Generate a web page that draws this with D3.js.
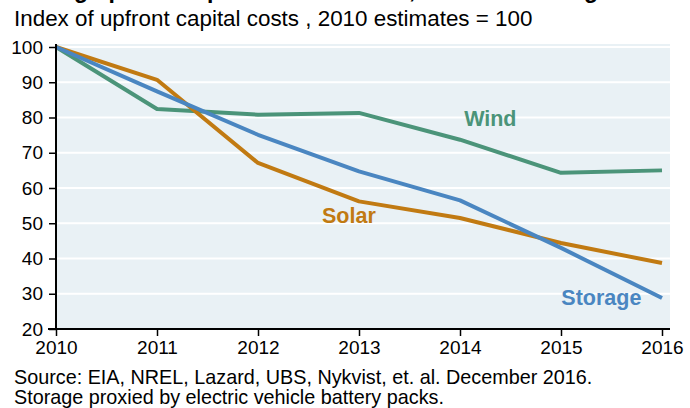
<!DOCTYPE html>
<html>
<head>
<meta charset="utf-8">
<script src="https://cdn.jsdelivr.net/npm/d3@7"></script>
<style>
  body { margin: 0; background: #fff; }
  svg { display: block; }
  text { font-family: "Liberation Sans", Arial, sans-serif; }
</style>
</head>
<body>
<div class="chart"></div>
<script>
// --- Data (index, 2010 = 100) ---
const years = [2010, 2011, 2012, 2013, 2014, 2015, 2016];
const wind = [100, 82.4, 80.8, 81.3, 73.7, 64.3, 65.0];
const solar = [100, 90.7, 67.1, 56.2, 51.5, 44.4, 38.7];
const storage = [100, 87.4, 75.1, 64.7, 56.5, 43.0, 28.8];
const yTicks = [20, 30, 40, 50, 60, 70, 80, 90, 100];

const series = [
  { name: "Wind", values: wind, color: "#4b9479", lx: 2014.3, ly: 77.5 },
  { name: "Solar", values: solar, color: "#c17a12", lx: 2012.9, ly: 50 },
  { name: "Storage", values: storage, color: "#4a86c1", lx: 2015.4, ly: 26.8 }
];

const W = 690, H = 408;
const svg = d3.select(".chart").append("svg")
  .attr("width", W)
  .attr("height", H);

// --- Scales ---
const x = d3.scaleLinear().domain([2010, 2016]).range([56, 662]);
const y = d3.scaleLinear().domain([20, 100]).range([329, 47]);

// title (only its descenders show at the top edge in the original)
svg.append("text")
  .attr("x", 14)
  .attr("y", -2)
  .style("font-size", "23px")
  .style("font-weight", "bold")
  .text("Falling upfront capital costs of solar, wind and storage");

svg.append("text")
  .attr("x", 14)
  .attr("y", 26)
  .style("font-size", "22.4px")
  .text("Index of upfront capital costs , 2010 estimates = 100");

// plot background
svg.append("rect")
  .attr("x", x(2010))
  .attr("y", 44)
  .attr("width", 670 - x(2010))
  .attr("height", y(20) - 44)
  .attr("fill", "#e9f1f5");

// gridlines
svg.append("g")
  .selectAll("line")
  .data(yTicks.filter(d => d > 20))
  .join("line")
  .attr("x1", x(2010))
  .attr("x2", 670)
  .attr("y1", d => y(d))
  .attr("y2", d => y(d))
  .attr("stroke", "#fff")
  .attr("stroke-width", 2);

// --- Lines ---
const line = d3.line()
  .x((d, i) => x(years[i]))
  .y(d => y(d));

svg.append("g")
  .selectAll("path")
  .data(series)
  .join("path")
  .attr("d", d => line(d.values))
  .attr("fill", "none")
  .attr("stroke", d => d.color)
  .attr("stroke-width", 4)
  .attr("stroke-linejoin", "round");

// series labels
svg.append("g")
  .selectAll("text")
  .data(series)
  .join("text")
  .attr("x", d => x(d.lx))
  .attr("y", d => y(d.ly))
  .attr("text-anchor", "middle")
  .attr("fill", d => d.color)
  .style("font-size", "21.5px")
  .style("font-weight", "bold")
  .text(d => d.name);

// --- Axes ---
const yAxis = svg.append("g")
  .attr("transform", `translate(${x(2010)},0)`)
  .call(d3.axisLeft(y).tickValues(yTicks).tickSize(7).tickPadding(6));
yAxis.select(".domain").remove();
yAxis.append("line")
  .attr("y1", 44).attr("y2", y(20))
  .attr("stroke", "#000").attr("stroke-width", 2);

const xAxis = svg.append("g")
  .attr("transform", `translate(0,${y(20)})`)
  .call(d3.axisBottom(x).tickValues(years).tickFormat(d3.format("d")).tickSize(7).tickPadding(5));
xAxis.select(".domain").remove();
xAxis.append("line")
  .attr("x1", x(2010) - 8).attr("x2", 670)
  .attr("stroke", "#000").attr("stroke-width", 2);

svg.selectAll(".tick line").attr("stroke", "#000").attr("stroke-width", 1.5);
svg.selectAll(".tick text")
  .attr("fill", "#000")
  .style("font-family", "'Liberation Sans', Arial, sans-serif")
  .style("font-size", "19px");

// source notes
svg.append("text")
  .attr("x", 14)
  .attr("y", 384)
  .style("font-size", "19.8px")
  .text("Source: EIA, NREL, Lazard, UBS, Nykvist, et. al. December 2016.");
svg.append("text")
  .attr("x", 14)
  .attr("y", 404)
  .style("font-size", "19.8px")
  .text("Storage proxied by electric vehicle battery packs.");
</script>
</body>
</html>
